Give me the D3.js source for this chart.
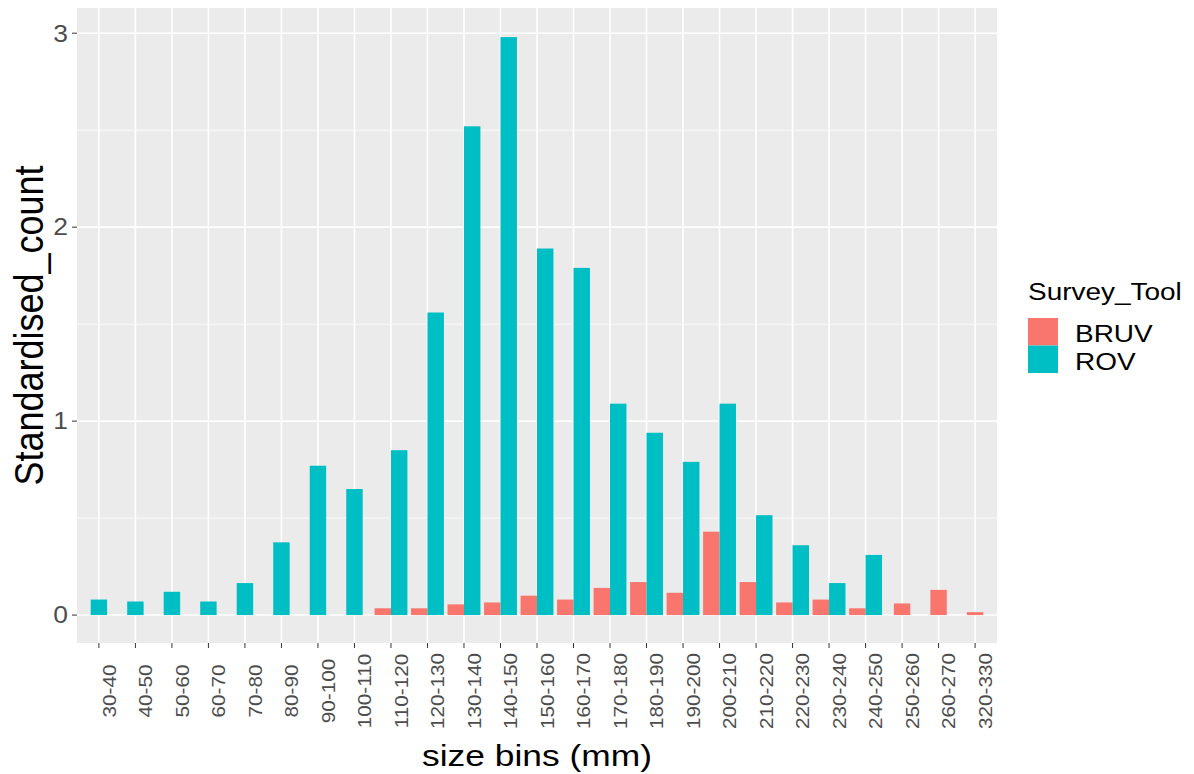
<!DOCTYPE html>
<html>
<head>
<meta charset="utf-8">
<script src="https://cdn.jsdelivr.net/npm/d3@7"></script>
<style>
  html, body { margin: 0; padding: 0; background: #fff; }
  svg { display: block; font-family: "Liberation Sans", Arial, sans-serif; }
</style>
</head>
<body>
<svg id="chart" width="1194" height="774"></svg>
<script>
const categories = ["30-40","40-50","50-60","60-70","70-80","80-90","90-100","100-110","110-120","120-130","130-140","140-150","150-160","160-170","170-180","180-190","190-200","200-210","210-220","220-230","230-240","240-250","250-260","260-270","320-330"];
const bruvValues = [null,null,null,null,null,null,null,null,0.035,0.035,0.055,0.065,0.10,0.08,0.14,0.17,0.115,0.43,0.17,0.065,0.08,0.035,0.06,0.13,0.015];
const rovValues  = [0.08,0.07,0.12,0.07,0.165,0.375,0.77,0.65,0.85,1.56,2.52,2.98,1.89,1.79,1.09,0.94,0.79,1.09,0.515,0.36,0.165,0.31,null,null,null];
const seriesNames = ["BRUV","ROV"];
const seriesColors = ["#F8766D","#00BFC4"];
const yTicks = [0,1,2,3];
const yMinor = [0.5,1.5,2.5];

const svg = d3.select("#chart");
const panel = {left: 77, right: 997, top: 8, bottom: 643};

const x = d3.scaleBand().domain(categories).range([panel.left, panel.right]).paddingInner(0).paddingOuter(0.1);
const y = d3.scaleLinear().domain([-0.144, 3.13]).range([panel.bottom, panel.top]);
const color = d3.scaleOrdinal().domain(seriesNames).range(seriesColors);

// panel background
svg.append("rect").attr("x", panel.left).attr("y", panel.top)
  .attr("width", panel.right - panel.left).attr("height", panel.bottom - panel.top)
  .attr("fill", "#EBEBEB");

// minor grid
svg.append("g").selectAll("line").data(yMinor).join("line")
  .attr("x1", panel.left).attr("x2", panel.right)
  .attr("y1", d => y(d)).attr("y2", d => y(d))
  .attr("stroke", "#fff").attr("stroke-width", 0.8);
// major grid
svg.append("g").selectAll("line").data(yTicks).join("line")
  .attr("x1", panel.left).attr("x2", panel.right)
  .attr("y1", d => y(d)).attr("y2", d => y(d))
  .attr("stroke", "#fff").attr("stroke-width", 1.6);
svg.append("g").selectAll("line").data(categories).join("line")
  .attr("x1", d => x(d) + x.bandwidth()/2).attr("x2", d => x(d) + x.bandwidth()/2)
  .attr("y1", panel.top).attr("y2", panel.bottom)
  .attr("stroke", "#fff").attr("stroke-width", 1.6);

// bars (dodge, preserve single)
const step = x.bandwidth();
const barW = 0.45 * step;
const rows = [];
categories.forEach((c, i) => {
  const vals = [bruvValues[i], rovValues[i]];
  const present = seriesNames.filter((s, k) => vals[k] != null);
  present.forEach((s, j) => {
    const k = seriesNames.indexOf(s);
    const center = x(c) + step/2;
    const start = center - present.length * barW / 2 + j * barW;
    rows.push({cat: c, series: s, value: vals[k], x0: start});
  });
});
svg.append("g").selectAll("rect").data(rows).join("rect")
  .attr("x", d => d.x0)
  .attr("width", barW)
  .attr("y", d => y(d.value))
  .attr("height", d => y(0) - y(d.value))
  .attr("fill", d => color(d.series));

// y axis
const yAxis = svg.append("g");
yAxis.selectAll("line").data(yTicks).join("line")
  .attr("x1", panel.left - 5).attr("x2", panel.left)
  .attr("y1", d => y(d)).attr("y2", d => y(d))
  .attr("stroke", "#333").attr("stroke-width", 1);
yAxis.selectAll("text").data(yTicks).join("text")
  .attr("transform", d => `translate(${panel.left - 9},${y(d)}) scale(1.15,1)`)
  .attr("text-anchor", "end").attr("dy", "0.36em")
  .attr("font-size", 23).attr("fill", "#4D4D4D")
  .text(d => d);

// x axis
const xAxis = svg.append("g");
xAxis.selectAll("line").data(categories).join("line")
  .attr("x1", d => x(d) + step/2).attr("x2", d => x(d) + step/2)
  .attr("y1", panel.bottom).attr("y2", panel.bottom + 5)
  .attr("stroke", "#333").attr("stroke-width", 1);
xAxis.selectAll("text").data(categories).join("text")
  .attr("transform", d => `translate(${x(d) + step/2},691) rotate(-90) scale(1.15,1)`)
  .attr("text-anchor", "middle").attr("dy", "0.93em")
  .attr("font-size", 18).attr("fill", "#4D4D4D")
  .text(d => d);

// axis titles
svg.append("text")
  .attr("transform", `translate(${(panel.left + panel.right)/2},766) scale(1.22,1)`)
  .attr("text-anchor", "middle").attr("font-size", 29).attr("fill", "#000")
  .text("size bins (mm)");
svg.append("text")
  .attr("transform", `translate(43,${(panel.top + panel.bottom)/2}) rotate(-90) scale(1,1.15)`)
  .attr("text-anchor", "middle").attr("font-size", 36).attr("fill", "#000")
  .text("Standardised_count");

// legend
const lg = svg.append("g");
lg.append("text").attr("transform", "translate(1028,300) scale(1.19,1)")
  .attr("font-size", 23.5).attr("fill", "#000").text("Survey_Tool");
seriesNames.forEach((s, i) => {
  lg.append("rect").attr("x", 1028).attr("y", 318 + i * 27.5)
    .attr("width", 30).attr("height", 27.5).attr("fill", color(s));
  lg.append("text").attr("transform", `translate(1075,${342 + i * 27.5}) scale(1.19,1)`)
    .attr("font-size", 23.5).attr("fill", "#000").text(s);
});
</script>
</body>
</html>
